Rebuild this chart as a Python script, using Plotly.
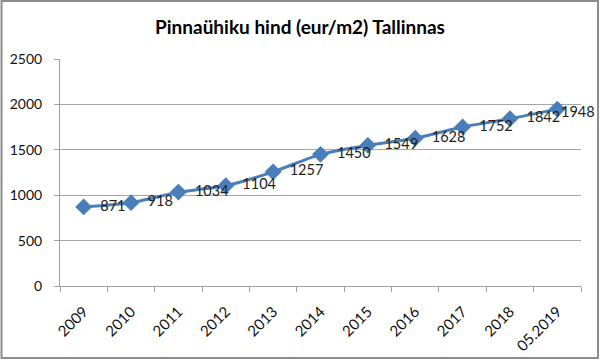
import plotly.graph_objects as go

years = ["2009", "2010", "2011", "2012", "2013", "2014", "2015", "2016", "2017", "2018", "05.2019"]
prices = [871, 918, 1034, 1104, 1257, 1450, 1549, 1628, 1752, 1842, 1948]
y_ticks = [0, 500, 1000, 1500, 2000, 2500]
title = "Pinnaühiku hind (eur/m2) Tallinnas"

FONT = "Lato"
L, R, T, B = 60, 19, 59, 75
W, H = 600, 361
pw, ph = W - L - R, H - T - B
LINE = "#4A7EBB"
LABEL_FONT = dict(family=FONT, size=14.5, color="#222222")

# last label is kept inside the chart (as the original does), others sit to the right
labels = ["  " + str(v) for v in prices[:-1]] + [""]

fig = go.Figure(go.Scatter(
    x=years, y=prices, mode="lines+markers+text",
    line=dict(color=LINE, width=3, shape="spline", smoothing=0.6),
    marker=dict(symbol="diamond", size=13, color=LINE),
    text=labels, textposition="middle right",
    textfont=LABEL_FONT,
    cliponaxis=False, showlegend=False,
))

# category index of the last point (string "05.2019" would be read as a number)
fig.add_annotation(x=len(years) - 1, y=prices[-1], text=str(prices[-1]), showarrow=False,
                   xanchor="left", yanchor="middle", xshift=2, yshift=-2, font=LABEL_FONT)

fig.update_layout(
    width=W, height=H, margin=dict(l=L, r=R, t=T, b=B, autoexpand=False),
    paper_bgcolor="white", plot_bgcolor="white",
    title=dict(text="<b>" + title + "</b>", x=0.5, xanchor="center", y=1 - 27 / H, yanchor="middle",
               font=dict(family=FONT, size=19, color="#000000")),
    xaxis=dict(type="category", range=[-0.5, len(years) - 0.5], tickson="boundaries",
               ticks="outside", ticklen=5, ticklabelstandoff=10,
               tickcolor="#A0A0A0", showline=True, linecolor="#A0A0A0", linewidth=1,
               showgrid=False, tickangle=-45, automargin=False,
               tickfont=dict(family=FONT, size=15, color="#111111")),
    yaxis=dict(range=[0, 2500], tickvals=y_ticks, ticks="outside", ticklen=5, ticklabelstandoff=9,
               tickcolor="#A0A0A0", showline=True, linecolor="#A0A0A0", linewidth=1,
               showgrid=True, gridcolor="#A6A6A6", gridwidth=1, zeroline=False, automargin=False,
               tickfont=dict(family=FONT, size=14, color="#111111")),
    shapes=[dict(type="rect", xref="paper", yref="paper",
                 x0=(1.5 - L) / pw, x1=(W - 2 - L) / pw,
                 y0=(T + ph - (H - 3)) / ph, y1=(T + ph - 1) / ph,
                 line=dict(color="#8C8C8C", width=2), fillcolor="rgba(0,0,0,0)", layer="above")],
)

fig.write_html("out.html", config={"displayModeBar": False},
               post_script="document.body.style.margin='0';document.body.style.overflow='hidden';")
